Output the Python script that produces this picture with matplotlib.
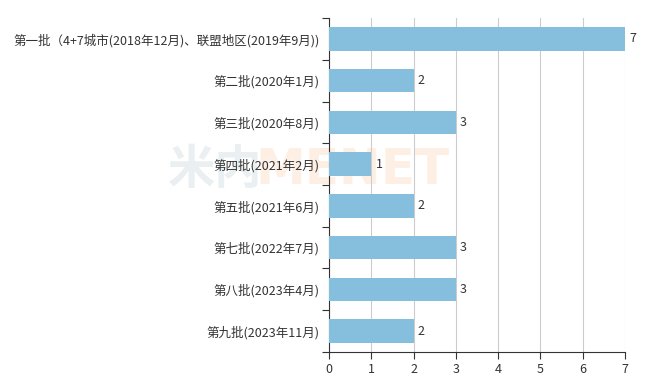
import matplotlib.pyplot as plt
import numpy as np

plt.rcParams['font.family'] = ['Noto Sans CJK SC', 'DejaVu Sans']

# batches (top to bottom) and number of rounds
labels = ['第一批（4+7城市(2018年12月)、联盟地区(2019年9月))',
          '第二批(2020年1月)',
          '第三批(2020年8月)',
          '第四批(2021年2月)',
          '第五批(2021年6月)',
          '第七批(2022年7月)',
          '第八批(2023年4月)',
          '第九批(2023年11月)']
values = [7, 2, 3, 1, 2, 3, 3, 2]
xticks = [0, 1, 2, 3, 4, 5, 6, 7]

fig = plt.figure(figsize=(6.67, 3.88), dpi=100)
ax = fig.add_axes([0.4933, 0.0928, 0.4438, 0.8608])
ax.set_facecolor('none')

n = len(labels)
pos = np.arange(n)
ax.barh(pos, values, height=0.56, color='#86bfdd', zorder=3)
for p, v in zip(pos, values):
    ax.text(v + 0.1, p, str(v), va='center', ha='left', fontsize=9, color='#333333')

ax.set_ylim(n - 0.5, -0.5)
ax.set_xlim(0, 7)
ax.set_xticks(xticks)
ax.set_yticks(pos)
ax.set_yticklabels(labels)
ax.set_yticks(np.arange(n + 1) - 0.5, minor=True)
ax.tick_params(axis='y', which='major', length=0, pad=7, labelsize=9, labelcolor='#333333')
ax.tick_params(axis='y', which='minor', length=5, width=0.8, color='#333333')
ax.tick_params(axis='x', length=5, width=0.8, color='#333333', labelsize=9, labelcolor='#333333', pad=3)

ax.grid(axis='x', color='#cccccc', linewidth=0.8, zorder=0)
for s in ['top', 'right']:
    ax.spines[s].set_visible(False)
ax.spines['left'].set_color('#333333')
ax.spines['bottom'].set_color('#333333')

# faint watermark behind the chart
fig.text(0.252, 0.562, '米内', fontsize=34, fontweight='bold', color='#eaeff2',
         va='center', zorder=-1)
fig.text(0.383, 0.562, 'MENET', fontsize=36, fontweight='bold', color='#fdefe4',
         family='DejaVu Sans', va='center', zorder=-1)

fig.savefig('out.png', dpi=100)
